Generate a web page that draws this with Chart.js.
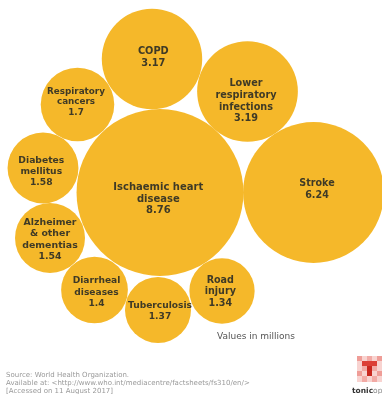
<!DOCTYPE html>
<html>
<head>
<meta charset="utf-8">
<title>Leading causes of death</title>
<script src="https://cdn.jsdelivr.net/npm/chart.js@4"></script>
<style>
    html, body { margin: 0; padding: 0; background: #fff; overflow: hidden; }
    #wrap { position: relative; width: 382px; height: 394px; overflow: hidden; font-family: "DejaVu Sans", sans-serif; }
    #bubbles { position: absolute; left: 0; top: 0; }
    .note { position: absolute; left: 217px; top: 331px; font-size: 9px; color: #555; white-space: nowrap; }
    .source { position: absolute; left: 6px; top: 371px; font-size: 7px; line-height: 8px; color: #999; white-space: nowrap; }
    .logo { position: absolute; left: 357px; top: 356px; width: 25px; height: 26px; }
    .brand { position: absolute; left: 352px; top: 386px; font-size: 7.5px; color: #888; white-space: nowrap; }
    .brand b { font-weight: bold; color: #333; }
</style>
</head>
<body>
<div id="wrap">
    <canvas id="bubbles" width="382" height="394"></canvas>
    <div class="note">Values in millions</div>
    <div class="source">Source: World Health Organization.<br>Available at: &lt;http://www.who.int/mediacentre/factsheets/fs310/en/&gt;<br>[Accessed on 11 August 2017]</div>
    <svg class="logo" viewBox="0 0 25 26">
        <rect width="25" height="26" fill="#f8d3d0"/>
        <rect x="0" y="0" width="5" height="5" fill="#ef9d97"/>
        <rect x="10" y="0" width="5" height="5" fill="#f2aaa5"/>
        <rect x="20" y="0" width="5" height="5" fill="#ef9d97"/>
        <rect x="5" y="10" width="5" height="5" fill="#f2aaa5"/>
        <rect x="15" y="10" width="5" height="5" fill="#f2aaa5"/>
        <rect x="0" y="15" width="5" height="5" fill="#ef9d97"/>
        <rect x="20" y="15" width="5" height="5" fill="#ef9d97"/>
        <rect x="5" y="20" width="5" height="6" fill="#f2aaa5"/>
        <rect x="15" y="20" width="5" height="6" fill="#f2aaa5"/>
        <rect x="5" y="5" width="15" height="5" fill="#dc3f36"/>
        <rect x="10" y="10" width="5" height="10" fill="#c9271f"/>
    </svg>
    <div class="brand"><b>tonic</b>op</div>
</div>
<script>
// ===== DATA =====
const causes = [
    ['Ischaemic heart', 'disease'],
    ['Stroke'],
    ['Lower', 'respiratory', 'infections'],
    ['COPD'],
    ['Respiratory', 'cancers'],
    ['Diabetes', 'mellitus'],
    ['Alzheimer', '& other', 'dementias'],
    ['Diarrheal', 'diseases'],
    ['Tuberculosis'],
    ['Road', 'injury']
];
const deaths = [8.76, 6.24, 3.19, 3.17, 1.7, 1.58, 1.54, 1.4, 1.37, 1.34];

// where each bubble sits in the packing
const packX = [160, 313.5, 247.5, 152, 77.5, 43, 50, 94.5, 158, 222];
const packY = [192.5, 192.5, 91.5, 59, 104.5, 168, 238, 290, 310, 291];

// bubble area follows the value
const RADIUS_PER_ROOT = 28.2;

// label tweaks, the text block isn't always dead centre in its bubble
const labelShiftX = [-1.7, 3.5, -1.5, 1.3, -1.5, -1.7, 0, 2, 2, -1.7];
const labelShiftY = [6.5, -3.2, 9.7, -1.5, -2.5, 3.7, 1.5, 2.3, 1.3, 0.7];
const labelSize = [10, 9.6, 9.7, 9.8, 8.8, 9.2, 9.4, 9.1, 9.1, 9.6];
const labelLeading = [11.7, 11.8, 11.8, 11.7, 10.4, 11.3, 11.2, 11.2, 10.8, 11.4];

const bubbleLabels = {
    id: 'bubbleLabels',
    afterDatasetsDraw(chart) {
        const { ctx } = chart;
        const points = chart.getDatasetMeta(0).data;
        ctx.save();
        ctx.fillStyle = '#3f3a26';
        ctx.textAlign = 'center';
        ctx.textBaseline = 'middle';
        points.forEach((pt, i) => {
            const lines = [...causes[i], String(deaths[i])];
            const top = pt.y + labelShiftY[i] - (lines.length - 1) * labelLeading[i] / 2;
            ctx.font = `bold ${labelSize[i]}px "DejaVu Sans", sans-serif`;
            lines.forEach((line, j) => ctx.fillText(line, pt.x + labelShiftX[i], top + j * labelLeading[i]));
        });
        ctx.restore();
    }
};

new Chart(document.getElementById('bubbles'), {
    type: 'bubble',
    data: {
        datasets: [{
            data: deaths.map((v, i) => ({ x: packX[i], y: packY[i], r: Math.sqrt(v) * RADIUS_PER_ROOT })),
            backgroundColor: '#f5b82a',
            borderWidth: 0,
            hoverBorderWidth: 0,
            clip: false
        }]
    },
    options: {
        responsive: false,
        animation: false,
        layout: { padding: 0, autoPadding: false },
        plugins: { legend: { display: false }, tooltip: { enabled: false } },
        scales: {
            x: { type: 'linear', display: false, min: 0, max: 382 },
            y: { type: 'linear', display: false, min: 0, max: 394, reverse: true }
        }
    },
    plugins: [bubbleLabels]
});
</script>
</body>
</html>
